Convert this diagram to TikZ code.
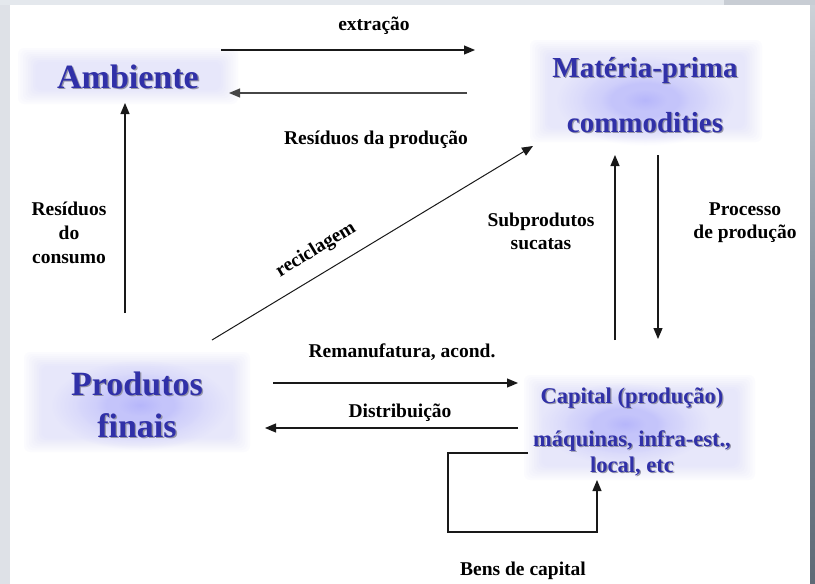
\documentclass[tikz,border=0pt]{standalone}
\usepackage{fontspec}
\setmainfont{Liberation Serif}
\usetikzlibrary{arrows.meta}

\definecolor{titleblue}{RGB}{48,48,168}
\definecolor{titleshadow}{RGB}{150,150,168}
\definecolor{halotint}{RGB}{196,196,250}
\definecolor{lineink}{RGB}{25,25,25}
\definecolor{greyink}{RGB}{70,70,70}
\definecolor{frameleft}{RGB}{222,225,231}
\definecolor{frametop}{RGB}{228,232,237}
\definecolor{framecorner}{RGB}{200,205,212}
\definecolor{rimtop}{RGB}{205,210,216}
\definecolor{rimmid}{RGB}{130,142,154}
\definecolor{rimlow}{RGB}{95,106,118}

% bright lavender core of a halo (path edges sit at 25bp)
\pgfdeclareradialshading{halocore}{\pgfpoint{0bp}{0bp}}{%
  color(0bp)=(rgb,255:red,182;green,182;blue,252);
  color(8bp)=(rgb,255:red,202;green,202;blue,252);
  color(16bp)=(rgb,255:red,234;green,234;blue,253);
  color(23bp)=(rgb,255:red,255;green,255;blue,255);
  color(50bp)=(rgb,255:red,255;green,255;blue,255)}

% title text with a faint drop shadow
\newcommand\shd[1]{\leavevmode\rlap{\kern1.3pt\raisebox{-1.3pt}{\color{titleshadow}#1}}#1}

% rectangular soft haze: nested translucent rectangles
% #1,#2 = corner, #3,#4 = opposite corner
\newcommand\haze[4]{%
  \foreach \k in {0,...,7}{%
    \fill[halotint, fill opacity=0.05, rounded corners=6pt]
      ({#1+2.5*\k},{#2+2*\k}) rectangle ({#3-2.5*\k},{#4-2*\k});
  }}

\begin{document}
\begin{tikzpicture}[x=1pt,y=-1pt,
  lbl/.style={font=\fontsize{19.5}{24}\selectfont\bfseries, text=black,
              inner sep=0pt, align=center, anchor=base},
  title/.style={text=titleblue, inner sep=0pt, align=center, anchor=base},
  flow/.style={draw=lineink, line width=1.2pt,
               -{Triangle[length=11pt,width=9pt]}},
]
\useasboundingbox (0,0) rectangle (815,584);

% page and frame
\fill[white] (0,0) rectangle (815,584);
\fill[frameleft] (0,0) rectangle (10,584);
\fill[frametop] (0,0) rectangle (815,5);
\fill[framecorner] (724,0) rectangle (815,5);
\shade[top color=rimtop, bottom color=rimmid] (810,5) rectangle (815,300);
\shade[top color=rimmid, bottom color=rimlow] (810,300) rectangle (815,584);

% halos: bright core first, translucent haze over it
\haze{18}{48}{238}{104}
\shade[shading=halocore] (545,50) rectangle (745,150);
\haze{530}{40}{762}{142}
\shade[shading=halocore] (40,355) rectangle (240,455);
\haze{24}{352}{250}{452}
\shade[shading=halocore] (530,378) rectangle (720,470);
\haze{524}{375}{755}{480}

% blocks (multi-line nodes are anchored on their last baseline)
\node[title, font=\fontsize{34}{42}\selectfont\bfseries] (amb) at (128,88) {\shd{Ambiente}};
\node[title, font=\fontsize{29}{55}\selectfont\bfseries] (mat) at (645,132)
  {\shd{Matéria-prima}\\\shd{commodities}};
\node[title, font=\fontsize{34}{42}\selectfont\bfseries] (prod) at (137,437)
  {\shd{Produtos}\\\shd{finais}};
\node[title, font=\fontsize{22.5}{26}\selectfont\bfseries] (cap) at (632,472)
  {\shd{Capital (produção)}\\[17pt]\shd{máquinas, infra-est.,}\\\shd{local, etc}};

% flow labels
\node[lbl] (l-ext) at (374,30) {extração};
\node[lbl] (l-resprod) at (376,144) {Resíduos da produção};
\node[lbl] (l-rescons) at (69,263) {Resíduos\\do\\consumo};
\node[lbl, anchor=center, rotate=31.1] (l-recic) at (316,250) {reciclagem};
\node[lbl, font=\fontsize{19.5}{23}\selectfont\bfseries] (l-sub) at (541,249) {Subprodutos\\sucatas};
\node[lbl, font=\fontsize{19.5}{23}\selectfont\bfseries] (l-proc) at (745,238) {Processo\\de produção};
\node[lbl] (l-reman) at (402,357) {Remanufatura, acond.};
\node[lbl] (l-dist) at (400,417) {Distribuição};
\node[lbl] (l-bens) at (523,575) {Bens de capital};

% connector end points
\coordinate (ext-a) at (221,50);   \coordinate (ext-b) at (475,50);
\coordinate (rp-a) at (467,93);    \coordinate (rp-b) at (229,93);
\coordinate (rc-a) at (125,313);   \coordinate (rc-b) at (125,103);
\coordinate (rec-a) at (212,340);  \coordinate (rec-b) at (533,146);
\coordinate (sub-a) at (615,340);  \coordinate (sub-b) at (615,155);
\coordinate (pp-a) at (658,155);   \coordinate (pp-b) at (658,339);
\coordinate (rm-a) at (273,383);   \coordinate (rm-b) at (518,383);
\coordinate (di-a) at (518,428);   \coordinate (di-b) at (265,428);
\coordinate (bk-a) at (528,453);   \coordinate (bk-c) at (448,532);
\coordinate (bk-b) at (597,480);

% flows
\draw[flow] (ext-a) -- (ext-b);
\draw[flow, draw=greyink] (rp-a) -- (rp-b);
\draw[flow] (rc-a) -- (rc-b);
\draw[flow, line width=1pt] (rec-a) -- (rec-b);
\draw[flow] (sub-a) -- (sub-b);
\draw[flow] (pp-a) -- (pp-b);
\draw[flow] (rm-a) -- (rm-b);
\draw[flow] (di-a) -- (di-b);
\draw[flow] (bk-a) -| (bk-c) -| (bk-b);
\end{tikzpicture}
\end{document}
